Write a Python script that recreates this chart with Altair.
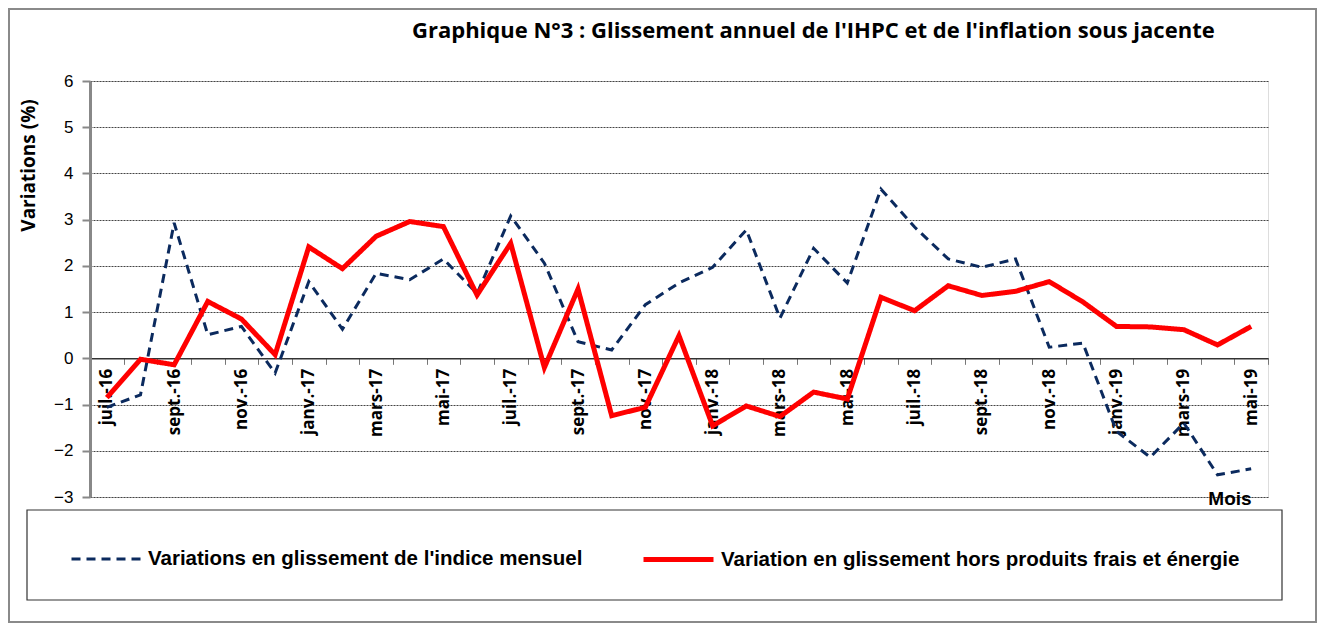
import json
import altair as alt
import pandas as pd

mois = ["juil.-16", "août-16", "sept.-16", "oct.-16", "nov.-16", "déc.-16",
        "janv.-17", "févr.-17", "mars-17", "avr.-17", "mai-17", "juin-17",
        "juil.-17", "août-17", "sept.-17", "oct.-17", "nov.-17", "déc.-17",
        "janv.-18", "févr.-18", "mars-18", "avr.-18", "mai-18", "juin-18",
        "juil.-18", "août-18", "sept.-18", "oct.-18", "nov.-18", "déc.-18",
        "janv.-19", "févr.-19", "mars-19", "avr.-19", "mai-19"]

etiquettes = ["juil.-16", "sept.-16", "nov.-16", "janv.-17", "mars-17", "mai-17",
              "juil.-17", "sept.-17", "nov.-17", "janv.-18", "mars-18", "mai-18",
              "juil.-18", "sept.-18", "nov.-18", "janv.-19", "mars-19", "mai-19"]

ihpc = [-1.06, -0.79, 2.93, 0.51, 0.69, -0.32,
        1.66, 0.63, 1.84, 1.70, 2.15, 1.40,
        3.08, 2.06, 0.36, 0.18, 1.16, 1.63,
        1.97, 2.78, 0.87, 2.38, 1.63, 3.66,
        2.84, 2.15, 1.97, 2.15, 0.24, 0.33,
        -1.58, -2.14, -1.40, -2.52, -2.39]

sous_jacente = [-0.85, -0.02, -0.14, 1.23, 0.85, 0.08,
                2.41, 1.94, 2.64, 2.96, 2.85, 1.37,
                2.49, -0.20, 1.50, -1.24, -1.06, 0.49,
                -1.46, -1.03, -1.26, -0.73, -0.88, 1.32,
                1.03, 1.57, 1.36, 1.45, 1.66, 1.22,
                0.69, 0.68, 0.62, 0.29, 0.69]

series = ["Variations en glissement de l'indice mensuel",
          "Variation en glissement hors produits frais et énergie"]
couleurs = ["#0b2a5e", "#ff0000"]
tirets = [[9, 6], [1, 0]]
epaisseurs = [3, 5]

titre = "Graphique N°3 : Glissement annuel de l'IHPC et de l'inflation sous jacente"

df = pd.concat([
    pd.DataFrame({"mois": mois, "valeur": ihpc, "serie": series[0]}),
    pd.DataFrame({"mois": mois, "valeur": sous_jacente, "serie": series[1]}),
])

W, H = 1178, 416
ymin, ymax = -3, 6
zero_offset = -(H * (0 - ymin) / (ymax - ymin))

label_expr = "indexof(" + json.dumps(etiquettes, ensure_ascii=False) + ", datum.value) >= 0 ? datum.value : ''"

x_enc = alt.X(
    "mois:O", sort=mois, bandPosition=0.5,
    scale=alt.Scale(type="band", paddingInner=0, paddingOuter=0),
    axis=alt.Axis(
        title=None, orient="bottom", offset=zero_offset, labelExpr=label_expr,
        labelAngle=-90, labelAlign="right", labelBaseline="middle",
        labelFont="Open Sans", labelFontSize=17, labelFontWeight="bold", labelColor="black",
        labelOverlap=False, labelPadding=4, tickBand="extent", tickSize=6,
        tickColor="#777", domainColor="#333", domainWidth=1.5, grid=False,
    ),
)

y_enc = alt.Y(
    "valeur:Q",
    scale=alt.Scale(domain=[ymin, ymax], nice=False, zero=False),
    axis=alt.Axis(
        title="Variations (%)", values=list(range(ymin, ymax + 1)),
        titleFont="Open Sans", titleFontSize=19, titleFontWeight="bold", titleColor="black",
        titleAngle=-90, titleX=-62, titleY=84, titleAlign="center", titleBaseline="middle",
        labelFont="Liberation Sans", labelFontSize=17, labelFontWeight="normal", labelColor="black",
        labelPadding=9, tickSize=8, tickColor="#888", tickWidth=2,
        domainColor="#888", domainWidth=3,
        grid=True, gridColor="#444", gridDash=[2, 1], gridWidth=1,
    ),
)

legende = alt.Legend(
    title=None, orient="none", legendX=-20, legendY=441, direction="horizontal",
    padding=0,
    labelFont="Liberation Sans", labelFontSize=20.5, labelFontWeight="bold", labelColor="black",
    labelLimit=800, labelOffset=5, columnPadding=50,
    symbolType="stroke", symbolSize=4900,
)

lines = alt.Chart(df).mark_line().encode(
    x=x_enc,
    y=y_enc,
    color=alt.Color("serie:N", scale=alt.Scale(domain=series, range=couleurs), legend=legende),
    strokeDash=alt.StrokeDash("serie:N", scale=alt.Scale(domain=series, range=tirets), legend=legende),
    strokeWidth=alt.StrokeWidth("serie:N", scale=alt.Scale(domain=series, range=epaisseurs), legend=legende),
)

cadre = alt.Chart(pd.DataFrame({"a": [0]})).mark_rect(
    fill=None, stroke="#8a8a8a", strokeWidth=2
).encode(x=alt.value(-81), x2=alt.value(1226), y=alt.value(-72), y2=alt.value(541))

boite_legende = alt.Chart(pd.DataFrame({"a": [0]})).mark_rect(
    fill="white", stroke="#333", strokeWidth=1.2
).encode(x=alt.value(-63), x2=alt.value(1192), y=alt.value(429), y2=alt.value(519))

titre_txt = alt.Chart(pd.DataFrame({"t": [titre]})).mark_text(
    font="Open Sans", fontSize=22, fontWeight="bold", color="black", align="left", baseline="middle"
).encode(text="t:N", x=alt.value(322), y=alt.value(-50))

mois_txt = alt.Chart(pd.DataFrame({"t": ["Mois"]})).mark_text(
    font="Liberation Sans", fontSize=19, fontWeight="bold", color="black", align="center", baseline="middle"
).encode(text="t:N", x=alt.value(1140), y=alt.value(418))

chart = alt.layer(cadre, boite_legende, lines, titre_txt, mois_txt).properties(
    width=W, height=H,
    autosize=alt.AutoSizeParams(type="none"),
    padding={"left": 82, "top": 73, "right": 49, "bottom": 126},
).configure_view(
    stroke="#8a8a8a", strokeDash=[6, 3], strokeWidth=2
).configure(background="white")

chart.save("out.html", embed_options={"renderer": "svg", "actions": False})
